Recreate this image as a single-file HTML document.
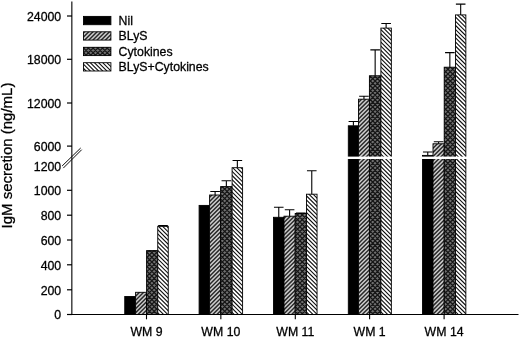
<!DOCTYPE html>
<html><head><meta charset="utf-8"><title>IgM secretion</title>
<style>
html,body{margin:0;padding:0;background:#fff;}
svg{display:block;}
text{font-family:"Liberation Sans",Arial,sans-serif;fill:#000;stroke:#000;stroke-width:0.28px;}
</style></head><body>
<svg width="520" height="338" viewBox="0 0 520 338">
<defs><filter id="soft" x="0" y="0" width="520" height="338" filterUnits="userSpaceOnUse"><feGaussianBlur stdDeviation="0.38"/></filter></defs>
<rect width="520" height="338" fill="#fff"/>
<g filter="url(#soft)">
<rect width="520" height="338" fill="#fff"/>

<rect x="124.75" y="296.50" width="10.85" height="18.00" fill="#000" stroke="#000" stroke-width="0.9"/>
<clipPath id="c1"><rect x="135.60" y="292.30" width="11.00" height="22.20"/></clipPath>
<rect x="135.60" y="292.30" width="11.00" height="22.20" fill="#cecece"/>
<path clip-path="url(#c1)" d="M134.60 297.20L147.60 284.20M134.60 301.35L147.60 288.35M134.60 305.50L147.60 292.50M134.60 309.65L147.60 296.65M134.60 313.80L147.60 300.80M134.60 317.95L147.60 304.95M134.60 322.10L147.60 309.10M134.60 326.25L147.60 313.25" stroke="#2a2a2a" stroke-width="1.45" fill="none"/>
<rect x="135.60" y="292.30" width="11.00" height="22.20" fill="none" stroke="#000" stroke-width="0.9"/>
<clipPath id="c2"><rect x="146.60" y="250.60" width="11.15" height="63.90"/></clipPath>
<rect x="146.60" y="250.60" width="11.15" height="63.90" fill="#707070"/>
<path clip-path="url(#c2)" d="M145.60 254.10L158.75 240.95M145.60 258.80L158.75 245.65M145.60 263.50L158.75 250.35M145.60 268.20L158.75 255.05M145.60 272.90L158.75 259.75M145.60 277.60L158.75 264.45M145.60 282.30L158.75 269.15M145.60 287.00L158.75 273.85M145.60 291.70L158.75 278.55M145.60 296.40L158.75 283.25M145.60 301.10L158.75 287.95M145.60 305.80L158.75 292.65M145.60 310.50L158.75 297.35M145.60 315.20L158.75 302.05M145.60 319.90L158.75 306.75M145.60 324.60L158.75 311.45M145.60 312.10L158.75 325.25M145.60 307.40L158.75 320.55M145.60 302.70L158.75 315.85M145.60 298.00L158.75 311.15M145.60 293.30L158.75 306.45M145.60 288.60L158.75 301.75M145.60 283.90L158.75 297.05M145.60 279.20L158.75 292.35M145.60 274.50L158.75 287.65M145.60 269.80L158.75 282.95M145.60 265.10L158.75 278.25M145.60 260.40L158.75 273.55M145.60 255.70L158.75 268.85M145.60 251.00L158.75 264.15M145.60 246.30L158.75 259.45M145.60 241.60L158.75 254.75" stroke="#141414" stroke-width="1.2" fill="none"/>
<rect x="146.60" y="250.60" width="11.15" height="63.90" fill="none" stroke="#000" stroke-width="0.9"/>
<clipPath id="c3"><rect x="157.75" y="226.30" width="10.50" height="88.20"/></clipPath>
<rect x="157.75" y="226.30" width="10.50" height="88.20" fill="#ffffff"/>
<path clip-path="url(#c3)" d="M156.75 311.75L169.25 324.25M156.75 307.60L169.25 320.10M156.75 303.45L169.25 315.95M156.75 299.30L169.25 311.80M156.75 295.15L169.25 307.65M156.75 291.00L169.25 303.50M156.75 286.85L169.25 299.35M156.75 282.70L169.25 295.20M156.75 278.55L169.25 291.05M156.75 274.40L169.25 286.90M156.75 270.25L169.25 282.75M156.75 266.10L169.25 278.60M156.75 261.95L169.25 274.45M156.75 257.80L169.25 270.30M156.75 253.65L169.25 266.15M156.75 249.50L169.25 262.00M156.75 245.35L169.25 257.85M156.75 241.20L169.25 253.70M156.75 237.05L169.25 249.55M156.75 232.90L169.25 245.40M156.75 228.75L169.25 241.25M156.75 224.60L169.25 237.10M156.75 220.45L169.25 232.95M156.75 216.30L169.25 228.80" stroke="#111111" stroke-width="1.1" fill="none"/>
<rect x="157.75" y="226.30" width="10.50" height="88.20" fill="none" stroke="#000" stroke-width="0.9"/>
<path d="M163.00 226.30V225.60M158.20 225.60H167.80" stroke="#000" stroke-width="1.1" fill="none"/>
<rect x="199.10" y="205.40" width="10.50" height="109.10" fill="#000" stroke="#000" stroke-width="0.9"/>
<clipPath id="c4"><rect x="209.60" y="195.00" width="11.00" height="119.50"/></clipPath>
<rect x="209.60" y="195.00" width="11.00" height="119.50" fill="#cecece"/>
<path clip-path="url(#c4)" d="M208.60 198.30L221.60 185.30M208.60 202.45L221.60 189.45M208.60 206.60L221.60 193.60M208.60 210.75L221.60 197.75M208.60 214.90L221.60 201.90M208.60 219.05L221.60 206.05M208.60 223.20L221.60 210.20M208.60 227.35L221.60 214.35M208.60 231.50L221.60 218.50M208.60 235.65L221.60 222.65M208.60 239.80L221.60 226.80M208.60 243.95L221.60 230.95M208.60 248.10L221.60 235.10M208.60 252.25L221.60 239.25M208.60 256.40L221.60 243.40M208.60 260.55L221.60 247.55M208.60 264.70L221.60 251.70M208.60 268.85L221.60 255.85M208.60 273.00L221.60 260.00M208.60 277.15L221.60 264.15M208.60 281.30L221.60 268.30M208.60 285.45L221.60 272.45M208.60 289.60L221.60 276.60M208.60 293.75L221.60 280.75M208.60 297.90L221.60 284.90M208.60 302.05L221.60 289.05M208.60 306.20L221.60 293.20M208.60 310.35L221.60 297.35M208.60 314.50L221.60 301.50M208.60 318.65L221.60 305.65M208.60 322.80L221.60 309.80" stroke="#2a2a2a" stroke-width="1.45" fill="none"/>
<rect x="209.60" y="195.00" width="11.00" height="119.50" fill="none" stroke="#000" stroke-width="0.9"/>
<path d="M215.10 195.00V191.50M210.30 191.50H219.90" stroke="#000" stroke-width="1.1" fill="none"/>
<clipPath id="c5"><rect x="220.60" y="186.60" width="11.50" height="127.90"/></clipPath>
<rect x="220.60" y="186.60" width="11.50" height="127.90" fill="#707070"/>
<path clip-path="url(#c5)" d="M219.60 189.50L233.10 176.00M219.60 194.20L233.10 180.70M219.60 198.90L233.10 185.40M219.60 203.60L233.10 190.10M219.60 208.30L233.10 194.80M219.60 213.00L233.10 199.50M219.60 217.70L233.10 204.20M219.60 222.40L233.10 208.90M219.60 227.10L233.10 213.60M219.60 231.80L233.10 218.30M219.60 236.50L233.10 223.00M219.60 241.20L233.10 227.70M219.60 245.90L233.10 232.40M219.60 250.60L233.10 237.10M219.60 255.30L233.10 241.80M219.60 260.00L233.10 246.50M219.60 264.70L233.10 251.20M219.60 269.40L233.10 255.90M219.60 274.10L233.10 260.60M219.60 278.80L233.10 265.30M219.60 283.50L233.10 270.00M219.60 288.20L233.10 274.70M219.60 292.90L233.10 279.40M219.60 297.60L233.10 284.10M219.60 302.30L233.10 288.80M219.60 307.00L233.10 293.50M219.60 311.70L233.10 298.20M219.60 316.40L233.10 302.90M219.60 321.10L233.10 307.60M219.60 325.80L233.10 312.30M219.60 310.90L233.10 324.40M219.60 306.20L233.10 319.70M219.60 301.50L233.10 315.00M219.60 296.80L233.10 310.30M219.60 292.10L233.10 305.60M219.60 287.40L233.10 300.90M219.60 282.70L233.10 296.20M219.60 278.00L233.10 291.50M219.60 273.30L233.10 286.80M219.60 268.60L233.10 282.10M219.60 263.90L233.10 277.40M219.60 259.20L233.10 272.70M219.60 254.50L233.10 268.00M219.60 249.80L233.10 263.30M219.60 245.10L233.10 258.60M219.60 240.40L233.10 253.90M219.60 235.70L233.10 249.20M219.60 231.00L233.10 244.50M219.60 226.30L233.10 239.80M219.60 221.60L233.10 235.10M219.60 216.90L233.10 230.40M219.60 212.20L233.10 225.70M219.60 207.50L233.10 221.00M219.60 202.80L233.10 216.30M219.60 198.10L233.10 211.60M219.60 193.40L233.10 206.90M219.60 188.70L233.10 202.20M219.60 184.00L233.10 197.50M219.60 179.30L233.10 192.80M219.60 174.60L233.10 188.10" stroke="#141414" stroke-width="1.2" fill="none"/>
<rect x="220.60" y="186.60" width="11.50" height="127.90" fill="none" stroke="#000" stroke-width="0.9"/>
<path d="M226.35 186.60V180.80M221.55 180.80H231.15" stroke="#000" stroke-width="1.1" fill="none"/>
<clipPath id="c6"><rect x="232.10" y="167.70" width="10.50" height="146.80"/></clipPath>
<rect x="232.10" y="167.70" width="10.50" height="146.80" fill="#ffffff"/>
<path clip-path="url(#c6)" d="M231.10 311.40L243.60 323.90M231.10 307.25L243.60 319.75M231.10 303.10L243.60 315.60M231.10 298.95L243.60 311.45M231.10 294.80L243.60 307.30M231.10 290.65L243.60 303.15M231.10 286.50L243.60 299.00M231.10 282.35L243.60 294.85M231.10 278.20L243.60 290.70M231.10 274.05L243.60 286.55M231.10 269.90L243.60 282.40M231.10 265.75L243.60 278.25M231.10 261.60L243.60 274.10M231.10 257.45L243.60 269.95M231.10 253.30L243.60 265.80M231.10 249.15L243.60 261.65M231.10 245.00L243.60 257.50M231.10 240.85L243.60 253.35M231.10 236.70L243.60 249.20M231.10 232.55L243.60 245.05M231.10 228.40L243.60 240.90M231.10 224.25L243.60 236.75M231.10 220.10L243.60 232.60M231.10 215.95L243.60 228.45M231.10 211.80L243.60 224.30M231.10 207.65L243.60 220.15M231.10 203.50L243.60 216.00M231.10 199.35L243.60 211.85M231.10 195.20L243.60 207.70M231.10 191.05L243.60 203.55M231.10 186.90L243.60 199.40M231.10 182.75L243.60 195.25M231.10 178.60L243.60 191.10M231.10 174.45L243.60 186.95M231.10 170.30L243.60 182.80M231.10 166.15L243.60 178.65M231.10 162.00L243.60 174.50M231.10 157.85L243.60 170.35" stroke="#111111" stroke-width="1.1" fill="none"/>
<rect x="232.10" y="167.70" width="10.50" height="146.80" fill="none" stroke="#000" stroke-width="0.9"/>
<path d="M237.35 167.70V160.50M232.55 160.50H242.15" stroke="#000" stroke-width="1.1" fill="none"/>
<rect x="273.52" y="217.30" width="10.48" height="97.20" fill="#000" stroke="#000" stroke-width="0.9"/>
<path d="M278.76 217.30V207.20M273.96 207.20H283.56" stroke="#000" stroke-width="1.1" fill="none"/>
<clipPath id="c7"><rect x="284.00" y="216.20" width="11.20" height="98.30"/></clipPath>
<rect x="284.00" y="216.20" width="11.20" height="98.30" fill="#cecece"/>
<path clip-path="url(#c7)" d="M283.00 219.35L296.20 206.15M283.00 223.50L296.20 210.30M283.00 227.65L296.20 214.45M283.00 231.80L296.20 218.60M283.00 235.95L296.20 222.75M283.00 240.10L296.20 226.90M283.00 244.25L296.20 231.05M283.00 248.40L296.20 235.20M283.00 252.55L296.20 239.35M283.00 256.70L296.20 243.50M283.00 260.85L296.20 247.65M283.00 265.00L296.20 251.80M283.00 269.15L296.20 255.95M283.00 273.30L296.20 260.10M283.00 277.45L296.20 264.25M283.00 281.60L296.20 268.40M283.00 285.75L296.20 272.55M283.00 289.90L296.20 276.70M283.00 294.05L296.20 280.85M283.00 298.20L296.20 285.00M283.00 302.35L296.20 289.15M283.00 306.50L296.20 293.30M283.00 310.65L296.20 297.45M283.00 314.80L296.20 301.60M283.00 318.95L296.20 305.75M283.00 323.10L296.20 309.90" stroke="#2a2a2a" stroke-width="1.45" fill="none"/>
<rect x="284.00" y="216.20" width="11.20" height="98.30" fill="none" stroke="#000" stroke-width="0.9"/>
<path d="M289.60 216.20V209.80M284.80 209.80H294.40" stroke="#000" stroke-width="1.1" fill="none"/>
<clipPath id="c8"><rect x="295.20" y="213.50" width="11.30" height="101.00"/></clipPath>
<rect x="295.20" y="213.50" width="11.30" height="101.00" fill="#707070"/>
<path clip-path="url(#c8)" d="M294.20 218.30L307.50 205.00M294.20 223.00L307.50 209.70M294.20 227.70L307.50 214.40M294.20 232.40L307.50 219.10M294.20 237.10L307.50 223.80M294.20 241.80L307.50 228.50M294.20 246.50L307.50 233.20M294.20 251.20L307.50 237.90M294.20 255.90L307.50 242.60M294.20 260.60L307.50 247.30M294.20 265.30L307.50 252.00M294.20 270.00L307.50 256.70M294.20 274.70L307.50 261.40M294.20 279.40L307.50 266.10M294.20 284.10L307.50 270.80M294.20 288.80L307.50 275.50M294.20 293.50L307.50 280.20M294.20 298.20L307.50 284.90M294.20 302.90L307.50 289.60M294.20 307.60L307.50 294.30M294.20 312.30L307.50 299.00M294.20 317.00L307.50 303.70M294.20 321.70L307.50 308.40M294.20 326.40L307.50 313.10M294.20 310.30L307.50 323.60M294.20 305.60L307.50 318.90M294.20 300.90L307.50 314.20M294.20 296.20L307.50 309.50M294.20 291.50L307.50 304.80M294.20 286.80L307.50 300.10M294.20 282.10L307.50 295.40M294.20 277.40L307.50 290.70M294.20 272.70L307.50 286.00M294.20 268.00L307.50 281.30M294.20 263.30L307.50 276.60M294.20 258.60L307.50 271.90M294.20 253.90L307.50 267.20M294.20 249.20L307.50 262.50M294.20 244.50L307.50 257.80M294.20 239.80L307.50 253.10M294.20 235.10L307.50 248.40M294.20 230.40L307.50 243.70M294.20 225.70L307.50 239.00M294.20 221.00L307.50 234.30M294.20 216.30L307.50 229.60M294.20 211.60L307.50 224.90M294.20 206.90L307.50 220.20M294.20 202.20L307.50 215.50" stroke="#141414" stroke-width="1.2" fill="none"/>
<rect x="295.20" y="213.50" width="11.30" height="101.00" fill="none" stroke="#000" stroke-width="0.9"/>
<path d="M300.85 213.50V213.00M296.05 213.00H305.65" stroke="#000" stroke-width="1.1" fill="none"/>
<clipPath id="c9"><rect x="306.50" y="194.20" width="10.55" height="120.30"/></clipPath>
<rect x="306.50" y="194.20" width="10.55" height="120.30" fill="#ffffff"/>
<path clip-path="url(#c9)" d="M305.50 311.10L318.05 323.65M305.50 306.95L318.05 319.50M305.50 302.80L318.05 315.35M305.50 298.65L318.05 311.20M305.50 294.50L318.05 307.05M305.50 290.35L318.05 302.90M305.50 286.20L318.05 298.75M305.50 282.05L318.05 294.60M305.50 277.90L318.05 290.45M305.50 273.75L318.05 286.30M305.50 269.60L318.05 282.15M305.50 265.45L318.05 278.00M305.50 261.30L318.05 273.85M305.50 257.15L318.05 269.70M305.50 253.00L318.05 265.55M305.50 248.85L318.05 261.40M305.50 244.70L318.05 257.25M305.50 240.55L318.05 253.10M305.50 236.40L318.05 248.95M305.50 232.25L318.05 244.80M305.50 228.10L318.05 240.65M305.50 223.95L318.05 236.50M305.50 219.80L318.05 232.35M305.50 215.65L318.05 228.20M305.50 211.50L318.05 224.05M305.50 207.35L318.05 219.90M305.50 203.20L318.05 215.75M305.50 199.05L318.05 211.60M305.50 194.90L318.05 207.45M305.50 190.75L318.05 203.30M305.50 186.60L318.05 199.15" stroke="#111111" stroke-width="1.1" fill="none"/>
<rect x="306.50" y="194.20" width="10.55" height="120.30" fill="none" stroke="#000" stroke-width="0.9"/>
<path d="M311.77 194.20V170.80M306.97 170.80H316.57" stroke="#000" stroke-width="1.1" fill="none"/>
<rect x="348.30" y="125.80" width="10.20" height="188.70" fill="#000" stroke="#000" stroke-width="0.9"/>
<path d="M353.40 125.80V121.50M348.60 121.50H358.20" stroke="#000" stroke-width="1.1" fill="none"/>
<clipPath id="c10"><rect x="358.50" y="99.20" width="10.90" height="215.30"/></clipPath>
<rect x="358.50" y="99.20" width="10.90" height="215.30" fill="#cecece"/>
<path clip-path="url(#c10)" d="M357.50 103.35L370.40 90.45M357.50 107.50L370.40 94.60M357.50 111.65L370.40 98.75M357.50 115.80L370.40 102.90M357.50 119.95L370.40 107.05M357.50 124.10L370.40 111.20M357.50 128.25L370.40 115.35M357.50 132.40L370.40 119.50M357.50 136.55L370.40 123.65M357.50 140.70L370.40 127.80M357.50 144.85L370.40 131.95M357.50 149.00L370.40 136.10M357.50 153.15L370.40 140.25M357.50 157.30L370.40 144.40M357.50 161.45L370.40 148.55M357.50 165.60L370.40 152.70M357.50 169.75L370.40 156.85M357.50 173.90L370.40 161.00M357.50 178.05L370.40 165.15M357.50 182.20L370.40 169.30M357.50 186.35L370.40 173.45M357.50 190.50L370.40 177.60M357.50 194.65L370.40 181.75M357.50 198.80L370.40 185.90M357.50 202.95L370.40 190.05M357.50 207.10L370.40 194.20M357.50 211.25L370.40 198.35M357.50 215.40L370.40 202.50M357.50 219.55L370.40 206.65M357.50 223.70L370.40 210.80M357.50 227.85L370.40 214.95M357.50 232.00L370.40 219.10M357.50 236.15L370.40 223.25M357.50 240.30L370.40 227.40M357.50 244.45L370.40 231.55M357.50 248.60L370.40 235.70M357.50 252.75L370.40 239.85M357.50 256.90L370.40 244.00M357.50 261.05L370.40 248.15M357.50 265.20L370.40 252.30M357.50 269.35L370.40 256.45M357.50 273.50L370.40 260.60M357.50 277.65L370.40 264.75M357.50 281.80L370.40 268.90M357.50 285.95L370.40 273.05M357.50 290.10L370.40 277.20M357.50 294.25L370.40 281.35M357.50 298.40L370.40 285.50M357.50 302.55L370.40 289.65M357.50 306.70L370.40 293.80M357.50 310.85L370.40 297.95M357.50 315.00L370.40 302.10M357.50 319.15L370.40 306.25M357.50 323.30L370.40 310.40" stroke="#2a2a2a" stroke-width="1.45" fill="none"/>
<rect x="358.50" y="99.20" width="10.90" height="215.30" fill="none" stroke="#000" stroke-width="0.9"/>
<path d="M363.95 99.20V96.30M359.15 96.30H368.75" stroke="#000" stroke-width="1.1" fill="none"/>
<clipPath id="c11"><rect x="369.40" y="75.80" width="11.50" height="238.70"/></clipPath>
<rect x="369.40" y="75.80" width="11.50" height="238.70" fill="#707070"/>
<path clip-path="url(#c11)" d="M368.40 78.30L381.90 64.80M368.40 83.00L381.90 69.50M368.40 87.70L381.90 74.20M368.40 92.40L381.90 78.90M368.40 97.10L381.90 83.60M368.40 101.80L381.90 88.30M368.40 106.50L381.90 93.00M368.40 111.20L381.90 97.70M368.40 115.90L381.90 102.40M368.40 120.60L381.90 107.10M368.40 125.30L381.90 111.80M368.40 130.00L381.90 116.50M368.40 134.70L381.90 121.20M368.40 139.40L381.90 125.90M368.40 144.10L381.90 130.60M368.40 148.80L381.90 135.30M368.40 153.50L381.90 140.00M368.40 158.20L381.90 144.70M368.40 162.90L381.90 149.40M368.40 167.60L381.90 154.10M368.40 172.30L381.90 158.80M368.40 177.00L381.90 163.50M368.40 181.70L381.90 168.20M368.40 186.40L381.90 172.90M368.40 191.10L381.90 177.60M368.40 195.80L381.90 182.30M368.40 200.50L381.90 187.00M368.40 205.20L381.90 191.70M368.40 209.90L381.90 196.40M368.40 214.60L381.90 201.10M368.40 219.30L381.90 205.80M368.40 224.00L381.90 210.50M368.40 228.70L381.90 215.20M368.40 233.40L381.90 219.90M368.40 238.10L381.90 224.60M368.40 242.80L381.90 229.30M368.40 247.50L381.90 234.00M368.40 252.20L381.90 238.70M368.40 256.90L381.90 243.40M368.40 261.60L381.90 248.10M368.40 266.30L381.90 252.80M368.40 271.00L381.90 257.50M368.40 275.70L381.90 262.20M368.40 280.40L381.90 266.90M368.40 285.10L381.90 271.60M368.40 289.80L381.90 276.30M368.40 294.50L381.90 281.00M368.40 299.20L381.90 285.70M368.40 303.90L381.90 290.40M368.40 308.60L381.90 295.10M368.40 313.30L381.90 299.80M368.40 318.00L381.90 304.50M368.40 322.70L381.90 309.20M368.40 309.30L381.90 322.80M368.40 304.60L381.90 318.10M368.40 299.90L381.90 313.40M368.40 295.20L381.90 308.70M368.40 290.50L381.90 304.00M368.40 285.80L381.90 299.30M368.40 281.10L381.90 294.60M368.40 276.40L381.90 289.90M368.40 271.70L381.90 285.20M368.40 267.00L381.90 280.50M368.40 262.30L381.90 275.80M368.40 257.60L381.90 271.10M368.40 252.90L381.90 266.40M368.40 248.20L381.90 261.70M368.40 243.50L381.90 257.00M368.40 238.80L381.90 252.30M368.40 234.10L381.90 247.60M368.40 229.40L381.90 242.90M368.40 224.70L381.90 238.20M368.40 220.00L381.90 233.50M368.40 215.30L381.90 228.80M368.40 210.60L381.90 224.10M368.40 205.90L381.90 219.40M368.40 201.20L381.90 214.70M368.40 196.50L381.90 210.00M368.40 191.80L381.90 205.30M368.40 187.10L381.90 200.60M368.40 182.40L381.90 195.90M368.40 177.70L381.90 191.20M368.40 173.00L381.90 186.50M368.40 168.30L381.90 181.80M368.40 163.60L381.90 177.10M368.40 158.90L381.90 172.40M368.40 154.20L381.90 167.70M368.40 149.50L381.90 163.00M368.40 144.80L381.90 158.30M368.40 140.10L381.90 153.60M368.40 135.40L381.90 148.90M368.40 130.70L381.90 144.20M368.40 126.00L381.90 139.50M368.40 121.30L381.90 134.80M368.40 116.60L381.90 130.10M368.40 111.90L381.90 125.40M368.40 107.20L381.90 120.70M368.40 102.50L381.90 116.00M368.40 97.80L381.90 111.30M368.40 93.10L381.90 106.60M368.40 88.40L381.90 101.90M368.40 83.70L381.90 97.20M368.40 79.00L381.90 92.50M368.40 74.30L381.90 87.80M368.40 69.60L381.90 83.10M368.40 64.90L381.90 78.40" stroke="#141414" stroke-width="1.2" fill="none"/>
<rect x="369.40" y="75.80" width="11.50" height="238.70" fill="none" stroke="#000" stroke-width="0.9"/>
<path d="M375.15 75.80V49.90M370.35 49.90H379.95" stroke="#000" stroke-width="1.1" fill="none"/>
<clipPath id="c12"><rect x="380.90" y="28.10" width="10.45" height="286.40"/></clipPath>
<rect x="380.90" y="28.10" width="10.45" height="286.40" fill="#ffffff"/>
<path clip-path="url(#c12)" d="M379.90 310.80L392.35 323.25M379.90 306.65L392.35 319.10M379.90 302.50L392.35 314.95M379.90 298.35L392.35 310.80M379.90 294.20L392.35 306.65M379.90 290.05L392.35 302.50M379.90 285.90L392.35 298.35M379.90 281.75L392.35 294.20M379.90 277.60L392.35 290.05M379.90 273.45L392.35 285.90M379.90 269.30L392.35 281.75M379.90 265.15L392.35 277.60M379.90 261.00L392.35 273.45M379.90 256.85L392.35 269.30M379.90 252.70L392.35 265.15M379.90 248.55L392.35 261.00M379.90 244.40L392.35 256.85M379.90 240.25L392.35 252.70M379.90 236.10L392.35 248.55M379.90 231.95L392.35 244.40M379.90 227.80L392.35 240.25M379.90 223.65L392.35 236.10M379.90 219.50L392.35 231.95M379.90 215.35L392.35 227.80M379.90 211.20L392.35 223.65M379.90 207.05L392.35 219.50M379.90 202.90L392.35 215.35M379.90 198.75L392.35 211.20M379.90 194.60L392.35 207.05M379.90 190.45L392.35 202.90M379.90 186.30L392.35 198.75M379.90 182.15L392.35 194.60M379.90 178.00L392.35 190.45M379.90 173.85L392.35 186.30M379.90 169.70L392.35 182.15M379.90 165.55L392.35 178.00M379.90 161.40L392.35 173.85M379.90 157.25L392.35 169.70M379.90 153.10L392.35 165.55M379.90 148.95L392.35 161.40M379.90 144.80L392.35 157.25M379.90 140.65L392.35 153.10M379.90 136.50L392.35 148.95M379.90 132.35L392.35 144.80M379.90 128.20L392.35 140.65M379.90 124.05L392.35 136.50M379.90 119.90L392.35 132.35M379.90 115.75L392.35 128.20M379.90 111.60L392.35 124.05M379.90 107.45L392.35 119.90M379.90 103.30L392.35 115.75M379.90 99.15L392.35 111.60M379.90 95.00L392.35 107.45M379.90 90.85L392.35 103.30M379.90 86.70L392.35 99.15M379.90 82.55L392.35 95.00M379.90 78.40L392.35 90.85M379.90 74.25L392.35 86.70M379.90 70.10L392.35 82.55M379.90 65.95L392.35 78.40M379.90 61.80L392.35 74.25M379.90 57.65L392.35 70.10M379.90 53.50L392.35 65.95M379.90 49.35L392.35 61.80M379.90 45.20L392.35 57.65M379.90 41.05L392.35 53.50M379.90 36.90L392.35 49.35M379.90 32.75L392.35 45.20M379.90 28.60L392.35 41.05M379.90 24.45L392.35 36.90M379.90 20.30L392.35 32.75" stroke="#111111" stroke-width="1.1" fill="none"/>
<rect x="380.90" y="28.10" width="10.45" height="286.40" fill="none" stroke="#000" stroke-width="0.9"/>
<path d="M386.12 28.10V23.50M381.32 23.50H390.93" stroke="#000" stroke-width="1.1" fill="none"/>
<rect x="422.52" y="155.40" width="10.48" height="159.10" fill="#000" stroke="#000" stroke-width="0.9"/>
<path d="M427.76 155.40V152.00M422.96 152.00H432.56" stroke="#000" stroke-width="1.1" fill="none"/>
<clipPath id="c13"><rect x="433.00" y="143.80" width="11.20" height="170.70"/></clipPath>
<rect x="433.00" y="143.80" width="11.20" height="170.70" fill="#cecece"/>
<path clip-path="url(#c13)" d="M432.00 145.05L445.20 131.85M432.00 149.20L445.20 136.00M432.00 153.35L445.20 140.15M432.00 157.50L445.20 144.30M432.00 161.65L445.20 148.45M432.00 165.80L445.20 152.60M432.00 169.95L445.20 156.75M432.00 174.10L445.20 160.90M432.00 178.25L445.20 165.05M432.00 182.40L445.20 169.20M432.00 186.55L445.20 173.35M432.00 190.70L445.20 177.50M432.00 194.85L445.20 181.65M432.00 199.00L445.20 185.80M432.00 203.15L445.20 189.95M432.00 207.30L445.20 194.10M432.00 211.45L445.20 198.25M432.00 215.60L445.20 202.40M432.00 219.75L445.20 206.55M432.00 223.90L445.20 210.70M432.00 228.05L445.20 214.85M432.00 232.20L445.20 219.00M432.00 236.35L445.20 223.15M432.00 240.50L445.20 227.30M432.00 244.65L445.20 231.45M432.00 248.80L445.20 235.60M432.00 252.95L445.20 239.75M432.00 257.10L445.20 243.90M432.00 261.25L445.20 248.05M432.00 265.40L445.20 252.20M432.00 269.55L445.20 256.35M432.00 273.70L445.20 260.50M432.00 277.85L445.20 264.65M432.00 282.00L445.20 268.80M432.00 286.15L445.20 272.95M432.00 290.30L445.20 277.10M432.00 294.45L445.20 281.25M432.00 298.60L445.20 285.40M432.00 302.75L445.20 289.55M432.00 306.90L445.20 293.70M432.00 311.05L445.20 297.85M432.00 315.20L445.20 302.00M432.00 319.35L445.20 306.15M432.00 323.50L445.20 310.30" stroke="#2a2a2a" stroke-width="1.45" fill="none"/>
<rect x="433.00" y="143.80" width="11.20" height="170.70" fill="none" stroke="#000" stroke-width="0.9"/>
<path d="M438.60 143.80V141.80M433.80 141.80H443.40" stroke="#000" stroke-width="1.1" fill="none"/>
<clipPath id="c14"><rect x="444.20" y="67.20" width="11.30" height="247.30"/></clipPath>
<rect x="444.20" y="67.20" width="11.30" height="247.30" fill="#707070"/>
<path clip-path="url(#c14)" d="M443.20 69.30L456.50 56.00M443.20 74.00L456.50 60.70M443.20 78.70L456.50 65.40M443.20 83.40L456.50 70.10M443.20 88.10L456.50 74.80M443.20 92.80L456.50 79.50M443.20 97.50L456.50 84.20M443.20 102.20L456.50 88.90M443.20 106.90L456.50 93.60M443.20 111.60L456.50 98.30M443.20 116.30L456.50 103.00M443.20 121.00L456.50 107.70M443.20 125.70L456.50 112.40M443.20 130.40L456.50 117.10M443.20 135.10L456.50 121.80M443.20 139.80L456.50 126.50M443.20 144.50L456.50 131.20M443.20 149.20L456.50 135.90M443.20 153.90L456.50 140.60M443.20 158.60L456.50 145.30M443.20 163.30L456.50 150.00M443.20 168.00L456.50 154.70M443.20 172.70L456.50 159.40M443.20 177.40L456.50 164.10M443.20 182.10L456.50 168.80M443.20 186.80L456.50 173.50M443.20 191.50L456.50 178.20M443.20 196.20L456.50 182.90M443.20 200.90L456.50 187.60M443.20 205.60L456.50 192.30M443.20 210.30L456.50 197.00M443.20 215.00L456.50 201.70M443.20 219.70L456.50 206.40M443.20 224.40L456.50 211.10M443.20 229.10L456.50 215.80M443.20 233.80L456.50 220.50M443.20 238.50L456.50 225.20M443.20 243.20L456.50 229.90M443.20 247.90L456.50 234.60M443.20 252.60L456.50 239.30M443.20 257.30L456.50 244.00M443.20 262.00L456.50 248.70M443.20 266.70L456.50 253.40M443.20 271.40L456.50 258.10M443.20 276.10L456.50 262.80M443.20 280.80L456.50 267.50M443.20 285.50L456.50 272.20M443.20 290.20L456.50 276.90M443.20 294.90L456.50 281.60M443.20 299.60L456.50 286.30M443.20 304.30L456.50 291.00M443.20 309.00L456.50 295.70M443.20 313.70L456.50 300.40M443.20 318.40L456.50 305.10M443.20 323.10L456.50 309.80M443.20 308.90L456.50 322.20M443.20 304.20L456.50 317.50M443.20 299.50L456.50 312.80M443.20 294.80L456.50 308.10M443.20 290.10L456.50 303.40M443.20 285.40L456.50 298.70M443.20 280.70L456.50 294.00M443.20 276.00L456.50 289.30M443.20 271.30L456.50 284.60M443.20 266.60L456.50 279.90M443.20 261.90L456.50 275.20M443.20 257.20L456.50 270.50M443.20 252.50L456.50 265.80M443.20 247.80L456.50 261.10M443.20 243.10L456.50 256.40M443.20 238.40L456.50 251.70M443.20 233.70L456.50 247.00M443.20 229.00L456.50 242.30M443.20 224.30L456.50 237.60M443.20 219.60L456.50 232.90M443.20 214.90L456.50 228.20M443.20 210.20L456.50 223.50M443.20 205.50L456.50 218.80M443.20 200.80L456.50 214.10M443.20 196.10L456.50 209.40M443.20 191.40L456.50 204.70M443.20 186.70L456.50 200.00M443.20 182.00L456.50 195.30M443.20 177.30L456.50 190.60M443.20 172.60L456.50 185.90M443.20 167.90L456.50 181.20M443.20 163.20L456.50 176.50M443.20 158.50L456.50 171.80M443.20 153.80L456.50 167.10M443.20 149.10L456.50 162.40M443.20 144.40L456.50 157.70M443.20 139.70L456.50 153.00M443.20 135.00L456.50 148.30M443.20 130.30L456.50 143.60M443.20 125.60L456.50 138.90M443.20 120.90L456.50 134.20M443.20 116.20L456.50 129.50M443.20 111.50L456.50 124.80M443.20 106.80L456.50 120.10M443.20 102.10L456.50 115.40M443.20 97.40L456.50 110.70M443.20 92.70L456.50 106.00M443.20 88.00L456.50 101.30M443.20 83.30L456.50 96.60M443.20 78.60L456.50 91.90M443.20 73.90L456.50 87.20M443.20 69.20L456.50 82.50M443.20 64.50L456.50 77.80M443.20 59.80L456.50 73.10M443.20 55.10L456.50 68.40" stroke="#141414" stroke-width="1.2" fill="none"/>
<rect x="444.20" y="67.20" width="11.30" height="247.30" fill="none" stroke="#000" stroke-width="0.9"/>
<path d="M449.85 67.20V52.60M445.05 52.60H454.65" stroke="#000" stroke-width="1.1" fill="none"/>
<clipPath id="c15"><rect x="455.50" y="14.90" width="10.35" height="299.60"/></clipPath>
<rect x="455.50" y="14.90" width="10.35" height="299.60" fill="#ffffff"/>
<path clip-path="url(#c15)" d="M454.50 310.70L466.85 323.05M454.50 306.55L466.85 318.90M454.50 302.40L466.85 314.75M454.50 298.25L466.85 310.60M454.50 294.10L466.85 306.45M454.50 289.95L466.85 302.30M454.50 285.80L466.85 298.15M454.50 281.65L466.85 294.00M454.50 277.50L466.85 289.85M454.50 273.35L466.85 285.70M454.50 269.20L466.85 281.55M454.50 265.05L466.85 277.40M454.50 260.90L466.85 273.25M454.50 256.75L466.85 269.10M454.50 252.60L466.85 264.95M454.50 248.45L466.85 260.80M454.50 244.30L466.85 256.65M454.50 240.15L466.85 252.50M454.50 236.00L466.85 248.35M454.50 231.85L466.85 244.20M454.50 227.70L466.85 240.05M454.50 223.55L466.85 235.90M454.50 219.40L466.85 231.75M454.50 215.25L466.85 227.60M454.50 211.10L466.85 223.45M454.50 206.95L466.85 219.30M454.50 202.80L466.85 215.15M454.50 198.65L466.85 211.00M454.50 194.50L466.85 206.85M454.50 190.35L466.85 202.70M454.50 186.20L466.85 198.55M454.50 182.05L466.85 194.40M454.50 177.90L466.85 190.25M454.50 173.75L466.85 186.10M454.50 169.60L466.85 181.95M454.50 165.45L466.85 177.80M454.50 161.30L466.85 173.65M454.50 157.15L466.85 169.50M454.50 153.00L466.85 165.35M454.50 148.85L466.85 161.20M454.50 144.70L466.85 157.05M454.50 140.55L466.85 152.90M454.50 136.40L466.85 148.75M454.50 132.25L466.85 144.60M454.50 128.10L466.85 140.45M454.50 123.95L466.85 136.30M454.50 119.80L466.85 132.15M454.50 115.65L466.85 128.00M454.50 111.50L466.85 123.85M454.50 107.35L466.85 119.70M454.50 103.20L466.85 115.55M454.50 99.05L466.85 111.40M454.50 94.90L466.85 107.25M454.50 90.75L466.85 103.10M454.50 86.60L466.85 98.95M454.50 82.45L466.85 94.80M454.50 78.30L466.85 90.65M454.50 74.15L466.85 86.50M454.50 70.00L466.85 82.35M454.50 65.85L466.85 78.20M454.50 61.70L466.85 74.05M454.50 57.55L466.85 69.90M454.50 53.40L466.85 65.75M454.50 49.25L466.85 61.60M454.50 45.10L466.85 57.45M454.50 40.95L466.85 53.30M454.50 36.80L466.85 49.15M454.50 32.65L466.85 45.00M454.50 28.50L466.85 40.85M454.50 24.35L466.85 36.70M454.50 20.20L466.85 32.55M454.50 16.05L466.85 28.40M454.50 11.90L466.85 24.25M454.50 7.75L466.85 20.10M454.50 3.60L466.85 15.95" stroke="#111111" stroke-width="1.1" fill="none"/>
<rect x="455.50" y="14.90" width="10.35" height="299.60" fill="none" stroke="#000" stroke-width="0.9"/>
<path d="M460.68 14.90V4.10M455.88 4.10H465.48" stroke="#000" stroke-width="1.1" fill="none"/>
<rect x="340" y="156.6" width="135" height="2.4" fill="#fff"/>
<path d="M71.85 1.5V315.1" stroke="#000" stroke-width="1.1" fill="none"/>
<path d="M71.4 314.5H518.5" stroke="#000" stroke-width="1.2" fill="none"/>
<path d="M67 16H72" stroke="#000" stroke-width="1.2"/>
<text x="61.2" y="20.7" font-size="12.3" text-anchor="end">24000</text>
<path d="M67 59.3H72" stroke="#000" stroke-width="1.2"/>
<text x="61.2" y="64.0" font-size="12.3" text-anchor="end">18000</text>
<path d="M67 103.0H72" stroke="#000" stroke-width="1.2"/>
<text x="61.2" y="107.7" font-size="12.3" text-anchor="end">12000</text>
<path d="M67 146.1H72" stroke="#000" stroke-width="1.2"/>
<text x="61.2" y="150.5" font-size="12.3" text-anchor="end">6000</text>
<text x="61.2" y="170.7" font-size="12.3" text-anchor="end">1200</text>
<path d="M67 190.3H72" stroke="#000" stroke-width="1.2"/>
<text x="61.2" y="195.0" font-size="12.3" text-anchor="end">1000</text>
<path d="M67 215.2H72" stroke="#000" stroke-width="1.2"/>
<text x="61.2" y="219.9" font-size="12.3" text-anchor="end">800</text>
<path d="M67 240H72" stroke="#000" stroke-width="1.2"/>
<text x="61.2" y="244.7" font-size="12.3" text-anchor="end">600</text>
<path d="M67 264.8H72" stroke="#000" stroke-width="1.2"/>
<text x="61.2" y="269.5" font-size="12.3" text-anchor="end">400</text>
<path d="M67 289.8H72" stroke="#000" stroke-width="1.2"/>
<text x="61.2" y="294.5" font-size="12.3" text-anchor="end">200</text>
<path d="M67 314.5H72" stroke="#000" stroke-width="1.2"/>
<text x="61.2" y="319.2" font-size="12.3" text-anchor="end">0</text>
<path d="M62.1 166L80.7 148M63.3 168.1L81.7 149.7" stroke="#000" stroke-width="0.95" fill="none"/>
<path d="M146.5 314.5V319.3" stroke="#000" stroke-width="1.1"/>
<text x="146.5" y="336.1" font-size="12.3" text-anchor="middle">WM 9</text>
<path d="M220.85 314.5V319.3" stroke="#000" stroke-width="1.1"/>
<text x="220.85" y="336.1" font-size="12.3" text-anchor="middle">WM 10</text>
<path d="M295.3 314.5V319.3" stroke="#000" stroke-width="1.1"/>
<text x="295.3" y="336.1" font-size="12.3" text-anchor="middle">WM 11</text>
<path d="M369.6 314.5V319.3" stroke="#000" stroke-width="1.1"/>
<text x="369.6" y="336.1" font-size="12.3" text-anchor="middle">WM 1</text>
<path d="M444.1 314.5V319.3" stroke="#000" stroke-width="1.1"/>
<text x="444.1" y="336.1" font-size="12.3" text-anchor="middle">WM 14</text>
<text transform="translate(12.2 155.5) rotate(-90)" font-size="15" text-anchor="middle">IgM secretion (ng/mL)</text>
<rect x="83.50" y="16.40" width="27.40" height="8.30" fill="#000" stroke="#000" stroke-width="0.9"/>
<text x="118.6" y="24.6" font-size="12.3">Nil</text>
<clipPath id="c16"><rect x="83.50" y="31.80" width="27.40" height="8.30"/></clipPath>
<rect x="83.50" y="31.80" width="27.40" height="8.30" fill="#cecece"/>
<path clip-path="url(#c16)" d="M82.50 33.90L111.90 4.50M82.50 38.05L111.90 8.65M82.50 42.20L111.90 12.80M82.50 46.35L111.90 16.95M82.50 50.50L111.90 21.10M82.50 54.65L111.90 25.25M82.50 58.80L111.90 29.40M82.50 62.95L111.90 33.55M82.50 67.10L111.90 37.70" stroke="#2a2a2a" stroke-width="1.45" fill="none"/>
<rect x="83.50" y="31.80" width="27.40" height="8.30" fill="none" stroke="#000" stroke-width="0.9"/>
<text x="118.6" y="40.0" font-size="12.3">BLyS</text>
<clipPath id="c17"><rect x="83.50" y="47.30" width="27.40" height="8.30"/></clipPath>
<rect x="83.50" y="47.30" width="27.40" height="8.30" fill="#707070"/>
<path clip-path="url(#c17)" d="M82.50 49.30L111.90 19.90M82.50 54.00L111.90 24.60M82.50 58.70L111.90 29.30M82.50 63.40L111.90 34.00M82.50 68.10L111.90 38.70M82.50 72.80L111.90 43.40M82.50 77.50L111.90 48.10M82.50 82.20L111.90 52.80M82.50 51.60L111.90 81.00M82.50 46.90L111.90 76.30M82.50 42.20L111.90 71.60M82.50 37.50L111.90 66.90M82.50 32.80L111.90 62.20M82.50 28.10L111.90 57.50M82.50 23.40L111.90 52.80" stroke="#141414" stroke-width="1.2" fill="none"/>
<rect x="83.50" y="47.30" width="27.40" height="8.30" fill="none" stroke="#000" stroke-width="0.9"/>
<text x="118.6" y="55.5" font-size="12.3">Cytokines</text>
<clipPath id="c18"><rect x="83.50" y="62.70" width="27.40" height="8.30"/></clipPath>
<rect x="83.50" y="62.70" width="27.40" height="8.30" fill="#ffffff"/>
<path clip-path="url(#c18)" d="M82.50 67.35L111.90 96.75M82.50 63.20L111.90 92.60M82.50 59.05L111.90 88.45M82.50 54.90L111.90 84.30M82.50 50.75L111.90 80.15M82.50 46.60L111.90 76.00M82.50 42.45L111.90 71.85M82.50 38.30L111.90 67.70" stroke="#111111" stroke-width="1.1" fill="none"/>
<rect x="83.50" y="62.70" width="27.40" height="8.30" fill="none" stroke="#000" stroke-width="0.9"/>
<text x="118.6" y="70.9" font-size="12.3">BLyS+Cytokines</text>
</g></svg></body></html>
